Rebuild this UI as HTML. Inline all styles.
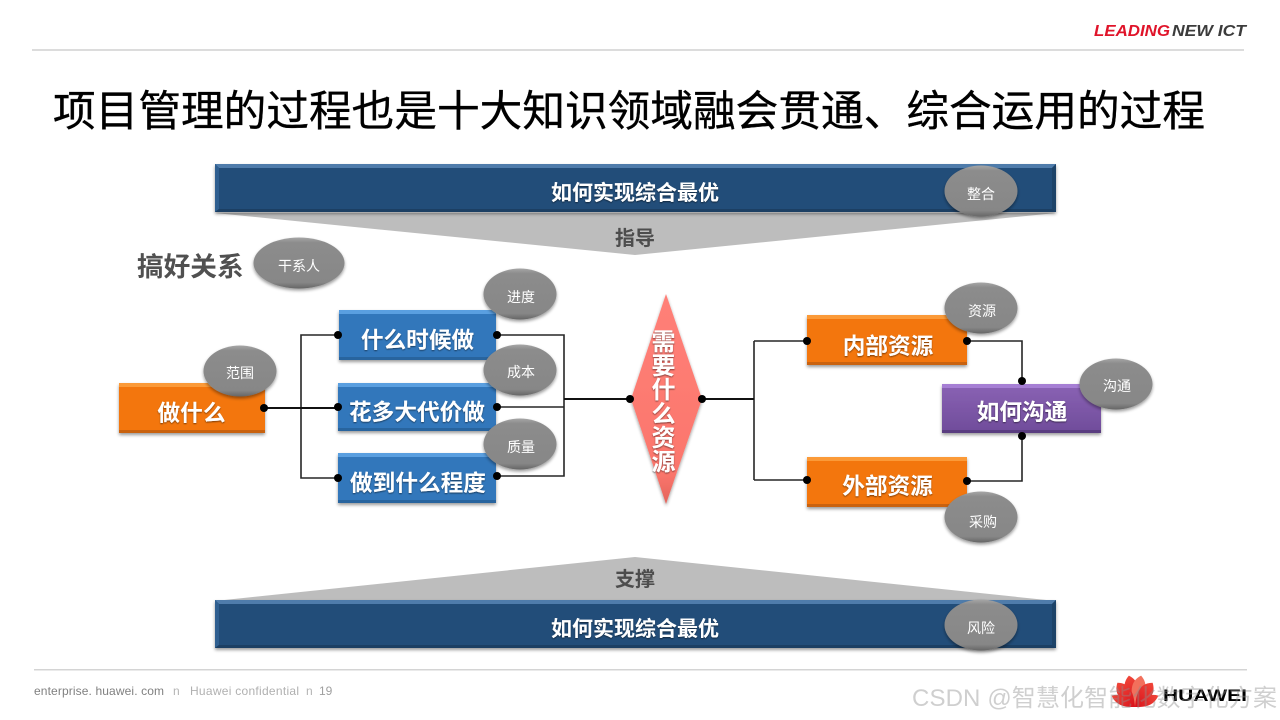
<!DOCTYPE html>
<html><head><meta charset="utf-8">
<style>
html,body{margin:0;padding:0;background:#fff;width:1280px;height:720px;overflow:hidden}
svg{display:block}
text{font-family:"Liberation Sans","Noto Sans CJK SC",sans-serif}
.b{font-weight:700;fill:#fff;text-anchor:middle}
.o{font-size:14px;fill:#fff;text-anchor:middle}
</style></head><body>
<svg width="1280" height="720" viewBox="0 0 1280 720" xmlns="http://www.w3.org/2000/svg">
<defs>
<filter id="s" x="-10%" y="-10%" width="120%" height="130%"><feGaussianBlur in="SourceAlpha" stdDeviation="1.5"/><feOffset dy="2"/><feComponentTransfer><feFuncA type="linear" slope=".4"/></feComponentTransfer><feMerge><feMergeNode/><feMergeNode in="SourceGraphic"/></feMerge></filter>
<filter id="t" x="-10%" y="-10%" width="120%" height="120%"><feGaussianBlur in="SourceAlpha" stdDeviation=".8"/><feOffset dy="1"/><feComponentTransfer><feFuncA type="linear" slope=".5"/></feComponentTransfer><feMerge><feMergeNode/><feMergeNode in="SourceGraphic"/></feMerge></filter>
<linearGradient id="el" x1="0" y1="0" x2="0" y2="1"><stop offset="0" stop-color="#a6a6a6"/><stop offset=".1" stop-color="#8c8c8c"/><stop offset=".88" stop-color="#878787"/><stop offset="1" stop-color="#666"/></linearGradient>
<linearGradient id="dm" x1="0" y1="0" x2="0" y2="1"><stop offset="0" stop-color="#ff8078"/><stop offset=".85" stop-color="#fb766c"/><stop offset="1" stop-color="#e4645c"/></linearGradient>
<linearGradient id="pu" x1="0" y1="0" x2="0" y2="1"><stop offset="0" stop-color="#8a62b4"/><stop offset="1" stop-color="#6f4c9a"/></linearGradient>
<linearGradient id="pt" x1="0" y1="0" x2="0" y2="1"><stop offset="0" stop-color="#f0473a"/><stop offset="1" stop-color="#d8101a"/></linearGradient>
</defs>

<!-- header -->
<rect x="32" y="49" width="1212" height="2" fill="#dcdcdc"/>
<text x="1094" y="36" font-size="15.5" font-weight="700" font-style="italic" fill="#e0142a" textLength="76" lengthAdjust="spacingAndGlyphs">LEADING</text>
<text x="1172" y="36" font-size="15.5" font-weight="700" font-style="italic" fill="#3c3c3c" textLength="74" lengthAdjust="spacingAndGlyphs">NEW ICT</text>
<text x="53" y="126" font-size="42.67" fill="#000" stroke="#000" stroke-width=".35" textLength="1152">项目管理的过程也是十大知识领域融会贯通、综合运用的过程</text>

<!-- top band -->
<polygon points="215,213 1056,213 635,255" fill="#bdbdbd"/>
<g filter="url(#s)"><rect x="215" y="164" width="841" height="48" fill="#234e79"/></g>
<polygon points="215,164 1056,164 1052,168 219,168" fill="#4f7cab"/>
<polygon points="215,164 219,168 219,209 215,212" fill="#2f5f90"/>
<polygon points="1056,164 1052,168 1052,209 1056,212" fill="#1d4368"/>
<polygon points="215,212 219,209 1052,209 1056,212" fill="#1c3f63"/>
<text class="b" x="635" y="200" font-size="21" filter="url(#t)">如何实现综合最优</text>
<text x="635" y="245" font-size="20" font-weight="700" fill="#4d4d4d" text-anchor="middle">指导</text>

<!-- bottom band -->
<polygon points="215,601 1056,601 635,557" fill="#bdbdbd"/>
<g filter="url(#s)"><rect x="215" y="600" width="841" height="48" fill="#234e79"/></g>
<polygon points="215,600 1056,600 1052,604 219,604" fill="#4f7cab"/>
<polygon points="215,600 219,604 219,645 215,648" fill="#2f5f90"/>
<polygon points="1056,600 1052,604 1052,645 1056,648" fill="#1d4368"/>
<polygon points="215,648 219,645 1052,645 1056,648" fill="#1c3f63"/>
<text class="b" x="635" y="636" font-size="21" filter="url(#t)">如何实现综合最优</text>
<text x="635" y="586" font-size="20" font-weight="700" fill="#4d4d4d" text-anchor="middle">支撑</text>

<text x="137" y="276" font-size="26.67" font-weight="700" fill="#505050">搞好关系</text>

<!-- connectors -->
<g fill="none" stroke="#262626" stroke-width="1.6">
<path d="M338 335H301V478H338"/>
<path d="M497 335H564V476H497"/>
<path d="M497 407H564"/>
<path d="M754 341H807M754 480H807M754 341V480"/>
<path d="M967 341H1022V381"/>
<path d="M967 481H1022V436"/>
</g>
<path d="M264 408H338M564 399H630M702 399H754" stroke="#111" stroke-width="2" fill="none"/>

<!-- boxes -->
<g filter="url(#s)"><rect x="119" y="383" width="146" height="50" fill="#f3760e"/></g>
<rect x="119" y="383" width="146" height="4" fill="#fb9a38"/><rect x="119" y="430" width="146" height="3" fill="#c9620f"/>
<g filter="url(#s)"><rect x="339" y="310" width="157" height="50" fill="#3077bb"/></g>
<rect x="339" y="310" width="157" height="4" fill="#5a9fe0"/><rect x="339" y="357" width="157" height="3" fill="#28649e"/>
<g filter="url(#s)"><rect x="338" y="383" width="158" height="48" fill="#3077bb"/></g>
<rect x="338" y="383" width="158" height="4" fill="#5a9fe0"/><rect x="338" y="428" width="158" height="3" fill="#28649e"/>
<g filter="url(#s)"><rect x="338" y="453" width="158" height="50" fill="#3077bb"/></g>
<rect x="338" y="453" width="158" height="4" fill="#5a9fe0"/><rect x="338" y="500" width="158" height="3" fill="#28649e"/>
<g filter="url(#s)"><rect x="807" y="315" width="160" height="50" fill="#f3760e"/></g>
<rect x="807" y="315" width="160" height="4" fill="#fb9a38"/><rect x="807" y="362" width="160" height="3" fill="#c9620f"/>
<g filter="url(#s)"><rect x="807" y="457" width="160" height="50" fill="#f3760e"/></g>
<rect x="807" y="457" width="160" height="4" fill="#fb9a38"/><rect x="807" y="504" width="160" height="3" fill="#c9620f"/>
<g filter="url(#s)"><rect x="942" y="384" width="159" height="49" fill="url(#pu)"/></g>
<rect x="942" y="384" width="159" height="4" fill="#a67fd4"/><rect x="942" y="430" width="159" height="3" fill="#5a3d80"/>
<g filter="url(#s)"><polygon points="666,294 702,399 666,504 631,399" fill="url(#dm)"/></g>

<g filter="url(#t)">
<text class="b" x="191.500" y="421" font-size="22.67">做什么</text>
<text class="b" x="417.500" y="348" font-size="22.67">什么时候做</text>
<text class="b" x="417" y="420" font-size="22.67">花多大代价做</text>
<text class="b" x="418" y="491" font-size="22.67">做到什么程度</text>
<text class="b" x="888" y="354" font-size="22.67">内部资源</text>
<text class="b" x="887.500" y="494" font-size="22.67">外部资源</text>
<text class="b" x="1022" y="420" font-size="22.67">如何沟通</text>
<text class="b" x="663.500" y="350" font-size="24">需</text>
<text class="b" x="663.500" y="374" font-size="24">要</text>
<text class="b" x="663.500" y="398" font-size="24">什</text>
<text class="b" x="663.500" y="422" font-size="24">么</text>
<text class="b" x="663.500" y="446" font-size="24">资</text>
<text class="b" x="663.500" y="470" font-size="24">源</text>
</g>

<!-- dots -->
<g fill="#000">
<circle cx="264" cy="408" r="4"/><circle cx="338" cy="335" r="4"/><circle cx="338" cy="407" r="4"/><circle cx="338" cy="478" r="4"/>
<circle cx="497" cy="335" r="4"/><circle cx="497" cy="407" r="4"/><circle cx="497" cy="476" r="4"/>
<circle cx="630" cy="399" r="4"/><circle cx="702" cy="399" r="4"/>
<circle cx="807" cy="341" r="4"/><circle cx="807" cy="480" r="4"/><circle cx="967" cy="341" r="4"/><circle cx="967" cy="481" r="4"/>
<circle cx="1022" cy="381" r="4"/><circle cx="1022" cy="436" r="4"/>
</g>

<!-- ovals -->
<g fill="url(#el)" filter="url(#s)">
<ellipse cx="981" cy="191" rx="36.5" ry="25.5"/>
<ellipse cx="299" cy="263" rx="45.5" ry="25.5"/>
<ellipse cx="520" cy="294" rx="36.5" ry="25.5"/>
<ellipse cx="520" cy="370" rx="36.5" ry="25.5"/>
<ellipse cx="520" cy="444" rx="36.5" ry="25.5"/>
<ellipse cx="240" cy="371" rx="36.5" ry="25.5"/>
<ellipse cx="981" cy="308" rx="36.5" ry="25.5"/>
<ellipse cx="1116" cy="384" rx="36.5" ry="25.5"/>
<ellipse cx="981" cy="517" rx="36.5" ry="25.5"/>
<ellipse cx="981" cy="625" rx="36.5" ry="25.5"/>
</g>
<text class="o" x="981" y="199">整合</text>
<text class="o" x="299" y="271">干系人</text>
<text class="o" x="521" y="302">进度</text>
<text class="o" x="521" y="377">成本</text>
<text class="o" x="521" y="452">质量</text>
<text class="o" x="240" y="378">范围</text>
<text class="o" x="982" y="316">资源</text>
<text class="o" x="1117" y="391">沟通</text>
<text class="o" x="983" y="527">采购</text>
<text class="o" x="981" y="633">风险</text>

<!-- footer -->
<rect x="34" y="669" width="1213" height="1.5" fill="#d4d4d4"/>
<text x="34" y="695" font-size="12" fill="#808080" textLength="130">enterprise. huawei. com</text>
<text x="173" y="695" font-size="12" fill="#b4b4b4">n</text>
<text x="190" y="695" font-size="12" fill="#b0b0b0" textLength="109">Huawei confidential</text>
<text x="306" y="695" font-size="12" fill="#b4b4b4">n</text>
<text x="319" y="695" font-size="12" fill="#a0a0a0">19</text>

<!-- logo -->
<g fill="url(#pt)">
<path d="M1135 707C1126 692 1126 682 1135 675C1144 682 1144 692 1135 707Z" transform="rotate(-11 1135 707)"/>
<path d="M1135 707C1126 692 1126 682 1135 675C1144 682 1144 692 1135 707Z" transform="rotate(11 1135 707)" fill="#f2705c"/>
<path d="M1135 707C1126 692 1126 684 1135 677C1144 684 1144 692 1135 707Z" transform="rotate(-36 1135 707)"/>
<path d="M1135 707C1126 692 1126 684 1135 677C1144 684 1144 692 1135 707Z" transform="rotate(36 1135 707)"/>
<path d="M1135 707C1129 696 1129 688 1135 681C1141 688 1141 696 1135 707Z" transform="rotate(-64 1135 707)"/>
<path d="M1135 707C1129 696 1129 688 1135 681C1141 688 1141 696 1135 707Z" transform="rotate(64 1135 707)"/>
</g>
<text x="1163" y="701" font-size="17" font-weight="700" fill="#000" textLength="84" lengthAdjust="spacingAndGlyphs">HUAWEI</text>

<!-- watermark -->
<text x="912" y="706" font-size="24" fill="#8c8c8c" fill-opacity=".42" textLength="365">CSDN @智慧化智能化数字化方案</text>
</svg>
</body></html>
